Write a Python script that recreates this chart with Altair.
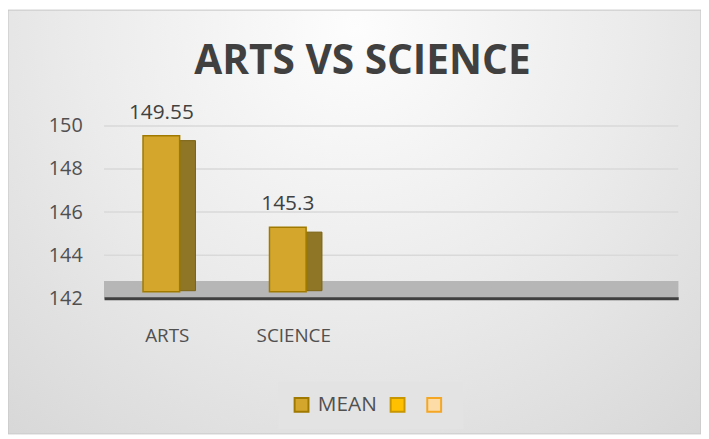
import altair as alt
import pandas as pd

# ---- data ----
categories = ["ARTS", "SCIENCE"]
mean_values = [149.55, 145.3]
label_text = ["149.55", "145.3"]
axis_categories = ["ARTS", "SCIENCE", "C3", "C4"]
series_names = ["MEAN", "Series2", "Series3"]
series_fill = ["#D4A72C", "#FFC000", "#FDDCA8"]
series_stroke = ["#A07A00", "#C89600", "#F5A623"]
y_ticks = [142, 144, 146, 148, 150]
title_text = "ARTS VS SCIENCE"

df = pd.DataFrame({
    "cat": categories,
    "value": mean_values,
    "label": label_text,
    "series": ["MEAN", "MEAN"],
})
ticks_df = pd.DataFrame({"tick": y_ticks})

W, H = 580, 174
PL, PT, PR, PB = 97, 117, 23, 137
FONT = "Open Sans"

x_scale = alt.Scale(domain=axis_categories, paddingInner=0, paddingOuter=0.27, align=0)
y_scale = alt.Scale(domain=[142, 150], nice=False, zero=False)

x_axis = alt.Axis(
    title=None, labelAngle=0, ticks=False, tickSize=0, labelPadding=29,
    labelFontSize=19, labelColor="#505050", labelFont=FONT,
    domain=True, domainColor="#404040", domainWidth=3, grid=False, zindex=2,
    labelExpr="(datum.value == 'C3' || datum.value == 'C4') ? '' : datum.value",
)
y_axis = alt.Axis(
    title=None, values=y_ticks, ticks=False, tickSize=0, labelPadding=22,
    labelFontSize=20, labelColor="#505050", labelFont=FONT, domain=False,
    grid=False, zindex=2,
)

leg = alt.Legend(
    title=None, labelExpr="datum.label == 'MEAN' ? 'MEAN' : ''",
    orient="none", legendX=176, legendY=258, direction="horizontal",
    symbolType="square", symbolSize=196, symbolStrokeWidth=2,
    labelFontSize=21, labelColor="#505050", labelFont=FONT, labelOffset=6,
    columnPadding=9, padding=13, fillColor="#e3e3e3",
)

base = alt.Chart(df)

bg = alt.Chart(pd.DataFrame({"a": [0]})).mark_rect(
    fill=alt.Gradient(
        gradient="radial",
        stops=[alt.GradientStop(color="#fdfdfd", offset=0),
               alt.GradientStop(color="#ebebeb", offset=0.5),
               alt.GradientStop(color="#d6d6d6", offset=1)],
        x1=0.5, y1=0.22, r1=0, x2=0.5, y2=0.22, r2=0.8,
    ),
    stroke="#c4c4c4", strokeWidth=1,
).encode(
    x=alt.value(-PL), x2=alt.value(W + PR),
    y=alt.value(-PT), y2=alt.value(H + PB),
)

title = alt.Chart(pd.DataFrame({"t": [title_text]})).mark_text(
    fontSize=41, fontWeight="bold", color="#404040", font=FONT,
    baseline="alphabetic", align="center",
).encode(x=alt.value(261), y=alt.value(-53), text="t:N")

grid = alt.Chart(ticks_df).mark_rule(color="#d9d9d9", strokeWidth=1.5).encode(
    y=alt.Y("tick:Q", scale=y_scale, axis=y_axis),
)

axis_layer = base.mark_point(opacity=0).encode(
    x=alt.X("cat:N", scale=x_scale, axis=x_axis),
    y=alt.Y("value:Q", scale=y_scale, axis=y_axis),
)

floor = base.mark_rect(color="#b6b6b6").encode(
    y=alt.datum(142), y2=alt.datum(142.8)
)

side = base.mark_bar(size=16, xOffset=20.5, yOffset=5, color="#8F7526",
                     stroke="#7A6212", strokeWidth=1).encode(
    x=alt.X("cat:N", scale=x_scale),
    y=alt.Y("value:Q", scale=y_scale),
    y2=alt.datum(142.35),
)

front = base.mark_bar(size=37, xOffset=-6, strokeWidth=1.5).encode(
    x=alt.X("cat:N", scale=x_scale),
    y=alt.Y("value:Q", scale=y_scale),
    y2=alt.datum(142.3),
    fill=alt.Fill("series:N", scale=alt.Scale(domain=series_names, range=series_fill),
                  legend=leg),
    stroke=alt.Stroke("series:N", scale=alt.Scale(domain=series_names, range=series_stroke),
                      legend=leg),
)

labels = base.mark_text(xOffset=-6, dy=-23, baseline="middle", fontSize=21,
                        color="#404040", font=FONT).encode(
    x=alt.X("cat:N", scale=x_scale),
    y=alt.Y("value:Q", scale=y_scale),
    text="label:N",
)

chart = alt.layer(bg, title, grid, axis_layer, floor, side, front, labels).properties(
    width=W, height=H,
    autosize=alt.AutoSizeParams(type="none"),
    padding={"left": PL, "top": PT, "right": PR, "bottom": PB},
).configure_view(stroke=None).configure(background="#ffffff")

chart.save("out.html", embed_options={"renderer": "svg", "actions": False})
